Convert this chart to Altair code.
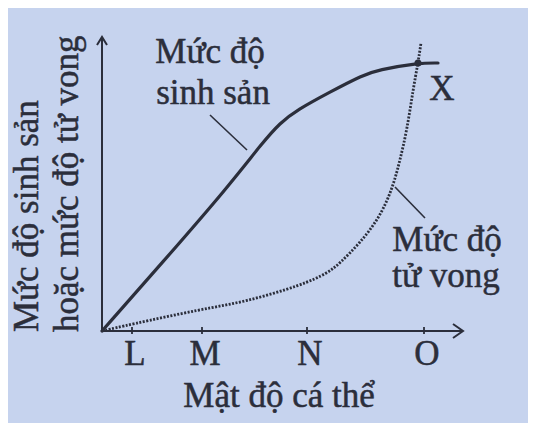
import altair as alt
import pandas as pd

# ---- data (x: population density, y: rate; arbitrary units) ----
birth_x = [0, 60, 126, 161, 178, 195, 228, 261, 276, 316, 336]
birth_y = [0, 68, 144, 189, 208, 221, 239, 256, 261, 268, 268]

death_x = [0, 26, 100, 143, 200, 226, 238, 258, 278, 291, 298, 305, 311, 316, 319]
death_y = [0, 6, 22, 29, 46, 58, 68, 88, 114, 144, 171, 201, 241, 268, 288]

tick_x = [30, 100, 205, 322]
tick_labels = ["L", "M", "N", "O"]

x_axis_end = 361
y_axis_end = 294

point_x = [316]
point_y = [268]

ann_text = ["Mức độ", "sinh sản", "X", "Mức độ", "tử vong"]
ann_x = [108, 111, 340, 345, 344]
ann_y = [268, 227, 231, 80, 44]

leader_x = [108, 293]
leader_y = [216, 144]
leader_x2 = [145, 323]
leader_y2 = [181, 113]

x_title = "Mật độ cá thể"
y_title = ["Mức độ sinh sản", "hoặc mức độ tử vong"]

INK = "#2b2e3b"
BG = "#c6d3ee"
FONT = "Liberation Serif"
FS = 35

xs = alt.Scale(domain=[0, 362], nice=False, zero=False)
ys = alt.Scale(domain=[0, 294], nice=False, zero=False)


def X(f):
    return alt.X(f, type="quantitative", scale=xs, axis=None)


def Y(f):
    return alt.Y(f, type="quantitative", scale=ys, axis=None)


def txt(**kw):
    return dict(font=FONT, fontSize=FS, color=INK, stroke=INK, strokeWidth=0.5,
                baseline="alphabetic", **kw)


# axes
axes_df = pd.DataFrame({"x": [0, 0], "y": [0, 0], "x2": [0, x_axis_end], "y2": [y_axis_end, 0]})
axes = alt.Chart(axes_df).mark_rule(color=INK, strokeWidth=2).encode(
    x=X("x"), y=Y("y"), x2="x2", y2="y2")

yarrow = alt.Chart(pd.DataFrame({"x": [0], "y": [y_axis_end]})).mark_point(
    shape="M-1,1.6L0,0L1,1.6", size=100, filled=False, stroke=INK, strokeWidth=2, opacity=1
).encode(x=X("x"), y=Y("y"))
xarrow = alt.Chart(pd.DataFrame({"x": [x_axis_end], "y": [0]})).mark_point(
    shape="M-2,-1.4L0,0L-2,1.4", size=100, filled=False, stroke=INK, strokeWidth=2, opacity=1
).encode(x=X("x"), y=Y("y"))

tick_df = pd.DataFrame({"x": tick_x, "label": tick_labels, "y": [-3] * 4, "y2": [4] * 4, "ly": [-34] * 4})
ticks = alt.Chart(tick_df).mark_rule(color=INK, strokeWidth=1.8).encode(
    x=X("x"), y=Y("y"), y2="y2")
tick_text = alt.Chart(tick_df).mark_text(**txt(align="center", dx=3)).encode(
    x=X("x"), y=Y("ly"), text="label")

birth = alt.Chart(pd.DataFrame({"x": birth_x, "y": birth_y})).mark_line(
    color=INK, strokeWidth=3.2, interpolate="basis", strokeCap="round"
).encode(x=X("x"), y=Y("y"))

death = alt.Chart(pd.DataFrame({"x": death_x, "y": death_y})).mark_line(
    color=INK, strokeWidth=2.8, interpolate="basis", strokeDash=[2, 1.5]
).encode(x=X("x"), y=Y("y"))

leaders = alt.Chart(pd.DataFrame({"x": leader_x, "y": leader_y, "x2": leader_x2, "y2": leader_y2})).mark_rule(
    color=INK, strokeWidth=1.6).encode(x=X("x"), y=Y("y"), x2="x2", y2="y2")

dot = alt.Chart(pd.DataFrame({"x": point_x, "y": point_y})).mark_circle(
    color=INK, size=50, opacity=1).encode(x=X("x"), y=Y("y"))

ann = alt.Chart(pd.DataFrame({"x": ann_x, "y": ann_y, "t": ann_text})).mark_text(
    **txt(align="center")).encode(x=X("x"), y=Y("y"), text="t")

xtitle = alt.Chart(pd.DataFrame({"x": [177], "y": [-76], "t": [x_title]})).mark_text(
    **txt(align="center")).encode(x=X("x"), y=Y("y"), text="t")

ytitle = alt.Chart(pd.DataFrame({"x": [-64, -24], "y": [-1, -1], "t": y_title})).mark_text(
    **txt(align="left", angle=270)).encode(x=X("x"), y=Y("y"), text="t")

chart = alt.layer(
    axes, yarrow, xarrow, ticks, tick_text, birth, death, leaders, dot, ann, xtitle, ytitle
).properties(
    width=362, height=294,
    autosize=alt.AutoSizeParams(type="none"),
    padding={"left": 94, "top": 29, "right": 64, "bottom": 92},
    background=BG,
).configure_view(stroke=None)

chart.save("out.html", embed_options={"renderer": "svg", "actions": False})
